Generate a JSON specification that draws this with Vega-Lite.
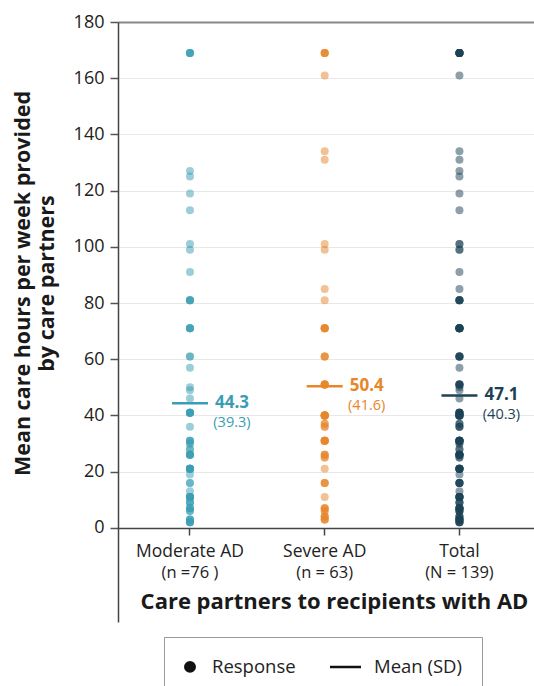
{
  "$schema": "https://vega.github.io/schema/vega-lite/v6.json",
  "width": 416,
  "height": 600,
  "autosize": {"type": "none"},
  "padding": {"left": 118, "top": 22, "right": 0, "bottom": 64},
  "background": "white",
  "config": {"font": "Open Sans", "view": {"stroke": null}},
  "datasets": {
    "resp": [
      {"g":"Moderate AD","h":169},{"g":"Moderate AD","h":169},{"g":"Moderate AD","h":169},{"g":"Moderate AD","h":169},
      {"g":"Moderate AD","h":127},{"g":"Moderate AD","h":125},{"g":"Moderate AD","h":119},{"g":"Moderate AD","h":113},
      {"g":"Moderate AD","h":101},{"g":"Moderate AD","h":99},{"g":"Moderate AD","h":91},
      {"g":"Moderate AD","h":81},{"g":"Moderate AD","h":81},{"g":"Moderate AD","h":81},{"g":"Moderate AD","h":81},
      {"g":"Moderate AD","h":71},{"g":"Moderate AD","h":71},{"g":"Moderate AD","h":71},{"g":"Moderate AD","h":71},
      {"g":"Moderate AD","h":61},{"g":"Moderate AD","h":61},{"g":"Moderate AD","h":57},
      {"g":"Moderate AD","h":50},{"g":"Moderate AD","h":49},{"g":"Moderate AD","h":46},
      {"g":"Moderate AD","h":41},{"g":"Moderate AD","h":41},{"g":"Moderate AD","h":41},{"g":"Moderate AD","h":41},{"g":"Moderate AD","h":41},{"g":"Moderate AD","h":41},
      {"g":"Moderate AD","h":36},
      {"g":"Moderate AD","h":31},{"g":"Moderate AD","h":31},{"g":"Moderate AD","h":31},
      {"g":"Moderate AD","h":30},{"g":"Moderate AD","h":30},{"g":"Moderate AD","h":28},{"g":"Moderate AD","h":28},
      {"g":"Moderate AD","h":26},{"g":"Moderate AD","h":26},{"g":"Moderate AD","h":26},{"g":"Moderate AD","h":26},{"g":"Moderate AD","h":26},
      {"g":"Moderate AD","h":21},{"g":"Moderate AD","h":21},{"g":"Moderate AD","h":21},{"g":"Moderate AD","h":21},{"g":"Moderate AD","h":21},{"g":"Moderate AD","h":21},{"g":"Moderate AD","h":21},
      {"g":"Moderate AD","h":19},{"g":"Moderate AD","h":16},{"g":"Moderate AD","h":16},{"g":"Moderate AD","h":13},
      {"g":"Moderate AD","h":11},{"g":"Moderate AD","h":11},{"g":"Moderate AD","h":11},{"g":"Moderate AD","h":11},{"g":"Moderate AD","h":11},{"g":"Moderate AD","h":11},
      {"g":"Moderate AD","h":9},{"g":"Moderate AD","h":9},{"g":"Moderate AD","h":9},
      {"g":"Moderate AD","h":7},{"g":"Moderate AD","h":7},{"g":"Moderate AD","h":7},
      {"g":"Moderate AD","h":6},{"g":"Moderate AD","h":6},
      {"g":"Moderate AD","h":3},{"g":"Moderate AD","h":3},{"g":"Moderate AD","h":3},
      {"g":"Moderate AD","h":2},{"g":"Moderate AD","h":2},{"g":"Moderate AD","h":2},{"g":"Moderate AD","h":2},
      {"g":"Severe AD","h":169},{"g":"Severe AD","h":169},{"g":"Severe AD","h":169},{"g":"Severe AD","h":169},
      {"g":"Severe AD","h":161},{"g":"Severe AD","h":134},{"g":"Severe AD","h":131},{"g":"Severe AD","h":101},{"g":"Severe AD","h":99},
      {"g":"Severe AD","h":85},{"g":"Severe AD","h":81},
      {"g":"Severe AD","h":71},{"g":"Severe AD","h":71},{"g":"Severe AD","h":71},{"g":"Severe AD","h":71},{"g":"Severe AD","h":71},
      {"g":"Severe AD","h":61},{"g":"Severe AD","h":61},{"g":"Severe AD","h":61},
      {"g":"Severe AD","h":51},{"g":"Severe AD","h":51},{"g":"Severe AD","h":51},{"g":"Severe AD","h":51},{"g":"Severe AD","h":51},
      {"g":"Severe AD","h":40},{"g":"Severe AD","h":40},{"g":"Severe AD","h":40},{"g":"Severe AD","h":40},{"g":"Severe AD","h":40},{"g":"Severe AD","h":40},{"g":"Severe AD","h":40},{"g":"Severe AD","h":40},
      {"g":"Severe AD","h":37},{"g":"Severe AD","h":37},{"g":"Severe AD","h":36},{"g":"Severe AD","h":36},
      {"g":"Severe AD","h":31},{"g":"Severe AD","h":31},{"g":"Severe AD","h":31},{"g":"Severe AD","h":31},{"g":"Severe AD","h":31},{"g":"Severe AD","h":31},
      {"g":"Severe AD","h":26},{"g":"Severe AD","h":26},{"g":"Severe AD","h":26},{"g":"Severe AD","h":25},{"g":"Severe AD","h":25},
      {"g":"Severe AD","h":21},{"g":"Severe AD","h":16},{"g":"Severe AD","h":16},{"g":"Severe AD","h":16},{"g":"Severe AD","h":11},
      {"g":"Severe AD","h":7},{"g":"Severe AD","h":7},{"g":"Severe AD","h":7},{"g":"Severe AD","h":6},{"g":"Severe AD","h":6},
      {"g":"Severe AD","h":4},{"g":"Severe AD","h":4},{"g":"Severe AD","h":4},
      {"g":"Severe AD","h":3},{"g":"Severe AD","h":3},{"g":"Severe AD","h":3}
    ],
    "means": [
      {"g":"Moderate AD","mean":44.3,"label":"44.3","sd":"(39.3)","n":"(n =76 )"},
      {"g":"Severe AD","mean":50.4,"label":"50.4","sd":"(41.6)","n":"(n = 63)"},
      {"g":"Total","mean":47.1,"label":"47.1","sd":"(40.3)","n":"(N = 139)"}
    ]
  },
  "layer": [
    {
      "data": {"name": "resp"},
      "mark": {"type": "point", "filled": true, "size": 64, "opacity": 0.5, "strokeWidth": 0},
      "encoding": {
        "x": {"field": "g", "type": "nominal",
          "scale": {"type": "band", "domain": ["Moderate AD","Severe AD","Total"], "paddingInner": 0, "paddingOuter": 0.0436, "align": 0.39},
          "axis": {"title": "Care partners to recipients with AD", "offset": -94, "labelAngle": 0,
            "labelFontSize": 17.5, "labelColor": "#222", "labelPadding": 7,
            "tickSize": 7, "tickColor": "#444", "tickWidth": 1.5, "domainColor": "#444", "domainWidth": 1.5,
            "titleFontSize": 22, "titleFontWeight": "bold", "titleColor": "#1a1a1a", "titlePadding": 32, "titleX": 216, "grid": false}},
        "y": {"field": "h", "type": "quantitative",
          "scale": {"domain": [-33.5, 180], "nice": false, "zero": false},
          "axis": {"values": [0,20,40,60,80,100,120,140,160,180],
            "title": ["Mean care hours per week provided", "by care partners"],
            "titleFontSize": 21.5, "titleFontWeight": "bold", "titleColor": "#1a1a1a", "titleLineHeight": 24, "titleY": 261, "titlePadding": 15,
            "labelFontSize": 18, "labelColor": "#222", "labelPadding": 6,
            "tickSize": 8, "tickColor": "#555", "tickWidth": 1.5, "domainColor": "#444", "domainWidth": 1.5,
            "grid": true,
            "gridColor": {"condition": {"test": "datum.value === 180", "value": "#888"}, "value": "#e8e8e8"},
            "gridWidth": {"condition": {"test": "datum.value === 180", "value": 2}, "value": 1}}},
        "color": {"field": "g", "type": "nominal",
          "scale": {"domain": ["Moderate AD","Severe AD","Total"], "range": ["#3a9db4","#e8862a","#1c4256"]}, "legend": null},
        "shape": {"datum": "Response", "type": "nominal",
          "scale": {"domain": ["Response","Mean (SD)"], "range": ["circle","stroke"]},
          "legend": {"orient": "none", "legendX": 46, "legendY": 615, "direction": "horizontal", "title": null,
            "strokeColor": "#999", "padding": 20, "labelFontSize": 18.5, "labelColor": "#222", "labelOffset": 12,
            "symbolFillColor": "#111", "symbolStrokeColor": "#111", "symbolStrokeWidth": 2.5, "symbolOpacity": 1,
            "columnPadding": 29,
            "encode": {
              "symbols": {"update": {
                "size": {"signal": "datum.value === 'Response' ? 90 : 961"},
                "x": {"signal": "datum.value === 'Response' ? 6 : 15.5"},
                "y": {"value": 9.5}}},
              "labels": {"update": {
                "x": {"signal": "datum.value === 'Response' ? 28 : 44"},
                "y": {"value": 9.5}}}}}}
      }
    },
    {
      "data": {"name": "resp"},
      "mark": {"type": "point", "filled": true, "size": 64, "opacity": 0.5, "strokeWidth": 0},
      "encoding": {
        "x": {"datum": "Total", "type": "nominal"},
        "y": {"field": "h", "type": "quantitative"},
        "color": {"datum": "Total", "type": "nominal"},
        "shape": {"datum": "Response", "type": "nominal"}
      }
    },
    {
      "data": {"name": "means"},
      "mark": {"type": "tick", "size": 36, "thickness": 2.5, "opacity": 1},
      "encoding": {
        "x": {"field": "g", "type": "nominal"},
        "y": {"field": "mean", "type": "quantitative"},
        "color": {"field": "g", "type": "nominal"}
      }
    },
    {
      "data": {"name": "means"},
      "mark": {"type": "text", "dx": 42, "align": "center", "baseline": "middle", "fontSize": 17, "fontWeight": "bold"},
      "encoding": {
        "x": {"field": "g", "type": "nominal"},
        "y": {"field": "mean", "type": "quantitative"},
        "text": {"field": "label"},
        "color": {"field": "g", "type": "nominal"}
      }
    },
    {
      "data": {"name": "means"},
      "mark": {"type": "text", "dx": 42, "dy": 20, "align": "center", "baseline": "middle", "fontSize": 14.5},
      "encoding": {
        "x": {"field": "g", "type": "nominal"},
        "y": {"field": "mean", "type": "quantitative"},
        "text": {"field": "sd"},
        "color": {"field": "g", "type": "nominal"}
      }
    },
    {
      "data": {"name": "means"},
      "mark": {"type": "text", "align": "center", "baseline": "middle", "fontSize": 16.5, "color": "#222"},
      "encoding": {
        "x": {"field": "g", "type": "nominal"},
        "y": {"datum": -16, "type": "quantitative"},
        "text": {"field": "n"}
      }
    }
  ]
}
